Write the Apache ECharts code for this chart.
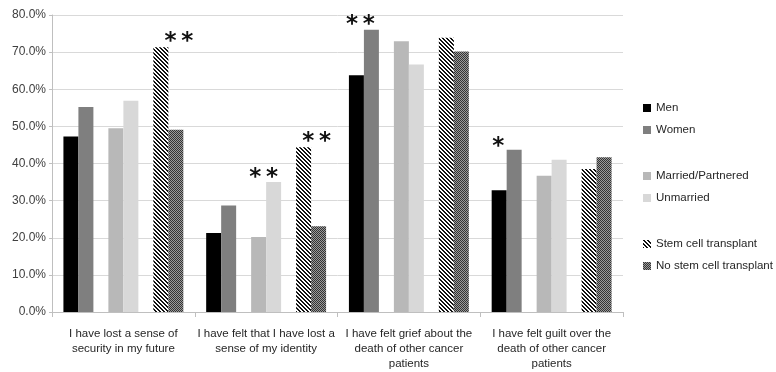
<!DOCTYPE html>
<html>
<head>
<meta charset="utf-8">
<script src="https://cdn.jsdelivr.net/npm/echarts@6/dist/echarts.min.js"></script>
<style>
html,body{margin:0;padding:0;background:#fff;}
#chart{width:776px;height:372px;}
</style>
</head>
<body>
<div id="chart"></div>
<script>
// ---- data ----
var categories = [
  "I have lost a sense of\nsecurity in my future",
  "I have felt that I have lost a\nsense of my identity",
  "I have felt grief about the\ndeath of other cancer\npatients",
  "I have felt guilt over the\ndeath of other cancer\npatients"
];
var men        = [47.3, 21.3, 63.8, 32.8];
var women      = [55.2, 28.7, 76.0, 43.7];
var married    = [49.5, 20.2, 72.9, 36.7];
var unmarried  = [56.9, 35.0, 66.7, 41.0];
var stemCell   = [71.3, 44.4, 73.9, 38.5];
var noStemCell = [49.1, 23.1, 70.2, 41.7];
var yTicks = [0, 10, 20, 30, 40, 50, 60, 70, 80];
// significance marks: [series name, category index, text]
var sigMarks = [
  ["Stem cell transplant", 0, "**"],
  ["Unmarried", 1, "**"],
  ["Stem cell transplant", 1, "**"],
  ["Women", 2, "**"],
  ["Women", 3, "*"]
];

// ---- patterns ----
function stripePattern() {
  var c = document.createElement('canvas');
  c.width = 8; c.height = 8;
  var ctx = c.getContext('2d');
  ctx.fillStyle = '#ffffff'; ctx.fillRect(0, 0, 8, 8);
  ctx.fillStyle = '#111111';
  for (var y = 0; y < 8; y++) for (var x = 0; x < 8; x++) {
    var m = ((x - y) % 4 + 4) % 4;
    if (m === 0 || m === 1) ctx.fillRect(x, y, 1, 1);
  }
  return c;
}
function checkPattern() {
  var c = document.createElement('canvas');
  c.width = 4; c.height = 4;
  var ctx = c.getContext('2d');
  for (var y = 0; y < 4; y++) for (var x = 0; x < 4; x++) {
    ctx.fillStyle = ((x + y) % 2 === 0) ? '#333333' : '#9a9a9a';
    ctx.fillRect(x, y, 1, 1);
  }
  return c;
}

// label offsets for significance marks (style, kept out of data)
var markStyle = {
  "Stem cell transplant|0": [18, -5],
  "Unmarried|1": [-10, -4],
  "Stem cell transplant|1": [13, -5],
  "Women|2": [-11, -5],
  "Women|3": [-16, -3]
};

function buildData(name, vals) {
  return vals.map(function (v, i) {
    var mk = sigMarks.filter(function (m) { return m[0] === name && m[1] === i; })[0];
    if (!mk) return v;
    var off = markStyle[name + '|' + i] || [0, -6];
    return {
      value: v,
      label: {
        show: true, position: 'top', distance: 0,
        formatter: mk[2].split('').join('\u2009'),
        offset: off,
        fontFamily: 'DejaVu Sans', fontWeight: 'bold', fontSize: 23, color: '#111',
        verticalAlign: 'middle', lineHeight: 23
      }
    };
  });
}

var spec = [
  ["Men", men, '#000000'],
  ["Women", women, '#7f7f7f'],
  [" ", null, null],
  ["Married/Partnered", married, '#b8b8b8'],
  ["Unmarried", unmarried, '#d8d8d8'],
  ["  ", null, null],
  ["Stem cell transplant", stemCell, {image: stripePattern(), repeat: 'repeat'}],
  ["No stem cell transplant", noStemCell, {image: checkPattern(), repeat: 'repeat'}]
];

var series = spec.map(function (s) {
  if (!s[1]) {
    return {name: s[0], type: 'bar', data: ['-', '-', '-', '-'], barGap: 0, barCategoryGap: '16%', silent: true};
  }
  return {
    name: s[0], type: 'bar', barGap: 0, barCategoryGap: '16%',
    itemStyle: {color: s[2]},
    data: buildData(s[0], s[1])
  };
});

var legendBase = {
  orient: 'vertical', left: 643, padding: 0, itemWidth: 8, itemHeight: 8,
  itemGap: 8, icon: 'rect', selectedMode: false,
  textStyle: {fontFamily: 'Liberation Sans', fontSize: 11.5, color: '#262626', lineHeight: 14}
};
function legendAt(top, names) {
  var l = JSON.parse(JSON.stringify(legendBase));
  l.top = top; l.data = names; return l;
}

var chart = echarts.init(document.getElementById('chart'), null, {renderer: 'canvas'});
chart.setOption({
  backgroundColor: '#ffffff',
  animation: false,
  grid: {left: 52, right: 153, top: 15, bottom: 60, containLabel: false},
  legend: [
    legendAt(101, ["Men", "Women"]),
    legendAt(169, ["Married/Partnered", "Unmarried"]),
    legendAt(237, ["Stem cell transplant", "No stem cell transplant"])
  ],
  xAxis: {
    type: 'category', data: categories,
    axisLine: {lineStyle: {color: '#bfbfbf'}},
    axisTick: {show: true, length: 5, lineStyle: {color: '#bfbfbf'}},
    axisLabel: {interval: 0, margin: 14, fontFamily: 'Liberation Sans', fontSize: 11.5, lineHeight: 15, color: '#262626', align: 'center'}
  },
  yAxis: {
    type: 'value', min: yTicks[0], max: yTicks[yTicks.length - 1], interval: yTicks[1] - yTicks[0],
    axisLine: {show: true, lineStyle: {color: '#bfbfbf'}},
    axisTick: {show: true, length: 3, lineStyle: {color: '#bfbfbf'}},
    splitLine: {lineStyle: {color: '#d9d9d9'}},
    axisLabel: {margin: 6, fontFamily: 'Liberation Sans', fontSize: 12, color: '#404040',
      formatter: function (v) { return v.toFixed(1) + '%'; }}
  },
  series: series
});
</script>
</body>
</html>
